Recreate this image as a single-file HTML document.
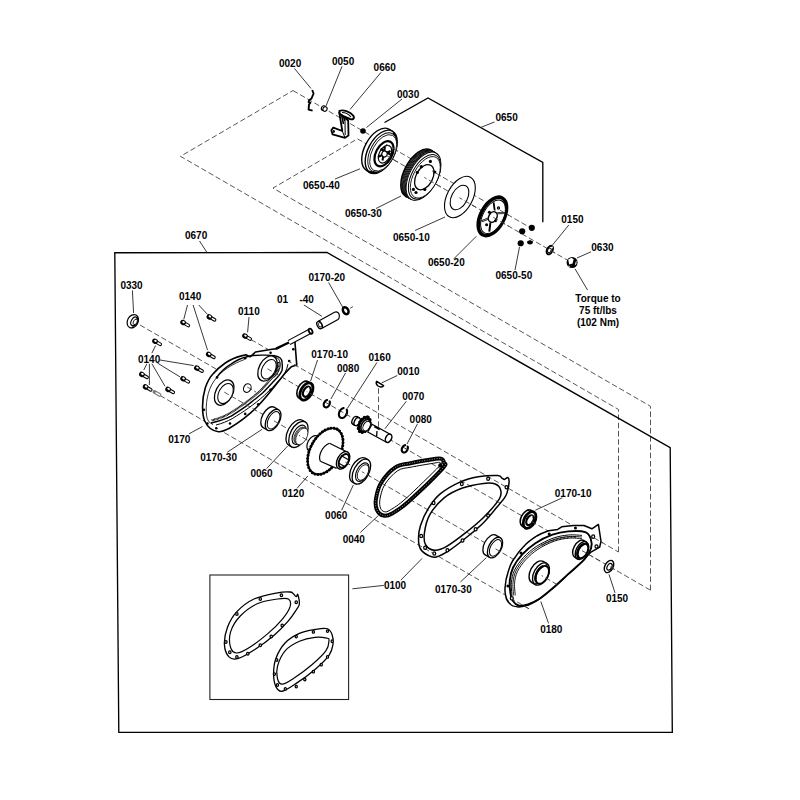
<!DOCTYPE html>
<html><head><meta charset="utf-8"><style>
html,body{margin:0;padding:0;background:#fff;}
svg{display:block;}
text{font-family:"Liberation Sans",sans-serif;font-weight:bold;font-size:10px;fill:#000;}
.ld{stroke:#222;stroke-width:0.9;fill:none;}
.ds{stroke:#444;stroke-width:0.9;fill:none;stroke-dasharray:5.5 2.75;}
.fr{stroke:#000;stroke-width:1.35;fill:none;}
.fr2{stroke:#222;stroke-width:1.1;fill:none;}
</style></head><body>
<svg width="800" height="800" viewBox="0 0 800 800">
<path class="ds" style="stroke-dashoffset:0" d="M251 339.58 L618.5 551.99"/>
<path class="ds" d="M618.5 551.99 L618.5 409.49 L180.5 156.33 L293 90.55"/>
<path class="ds" style="stroke-dashoffset:0" d="M293 90.55 L532 228.7"/>
<path class="ds" style="stroke-dashoffset:0" d="M267 368.53 L650.5 590.19"/>
<path class="ds" d="M650.5 590.19 L650.5 406.29 L273 188.09 L357.5 138.83"/>
<path class="ds" style="stroke-dashoffset:0" d="M357.5 138.83 L570 261.66"/>
<path class="ds" style="stroke-dashoffset:0" d="M140 325.02 L256 392.07"/>
<path class="ds" style="stroke-dashoffset:0" d="M224 391.97 L557 584.45"/>
<path class="ds" style="stroke-dashoffset:0" d="M160 395.48 L530 609.34"/>
<path class="ds" d="M378.5 388.3 L378.5 427.6"/>
<path class="fr" d="M114.8 252.7 L327 252.5 L670.2 447.6 L672.3 732.3 L118.8 732.3 Z"/>
<path class="fr" d="M384.5 122.5 L428 98 L542.8 162.5 L542.8 222.3"/>
<rect class="fr2" x="209.9" y="575" width="138.7" height="124.5"/>
<path d="M312.2 90 L313.6 93.5 L311.5 98.5 L309.2 100.2 L308.6 102 L310.4 102.6 L309 104.5 L308.6 109.6 L312.6 110.6" fill="none" stroke="#000" stroke-width="1.9" stroke-linejoin="round"/>
<ellipse cx="323.5" cy="108.2" rx="2.4" ry="2.04" transform="rotate(-62.0 323.5 108.2)" fill="#fff" stroke="#000" stroke-width="1.1" />
<ellipse cx="325" cy="109" rx="2.4" ry="2.04" transform="rotate(-62.0 325 109)" fill="#fff" stroke="#000" stroke-width="1.1" />
<path d="M339.3 112.5 L342.3 131 L333.3 127.6 L331.3 130.2 L332.6 134.4 L345 137.8 L348.5 135.6 L348.2 120.5 L343 116.5 Z" fill="#fff" stroke="#000" stroke-width="1.8" stroke-linejoin="round"/>
<path d="M342.3 131 L345 137.8 M345 121 L345.2 135" stroke="#000" stroke-width="1.0" fill="none"/>
<path d="M339.5 110.8 C343 109.5 350 111.5 353.2 115.5 C355 118.5 353 120 350 119 C346 117.5 342 116 339.5 113.5 Z" fill="#fff" stroke="#000" stroke-width="1.9" stroke-linejoin="round"/>
<path d="M342 112.5 C345 112.5 349 114.5 351 117" fill="none" stroke="#000" stroke-width="1.1"/>
<path d="M341.5 114.5 L343.5 124 M343.8 117 L345 121" stroke="#000" stroke-width="1.6"/>
<ellipse cx="333.8" cy="131.5" rx="1.1" ry="1.4" fill="#000"/>
<circle cx="363" cy="131" r="2.8" fill="#000"/>
<path d="M388.77 129.05 A23.5 13.16 -62.0 0 0 366.7 170.55 L370.17 172.55 L392.23 131.05 Z" fill="#fff" stroke="#000" stroke-width="1.4" stroke-linejoin="round"/>
<ellipse cx="381.2" cy="151.8" rx="23.5" ry="13.16" transform="rotate(-62.0 381.2 151.8)" fill="#fff" stroke="#000" stroke-width="1.4" />
<path d="M393.84 133.42 L394.43 134.65 L394.89 136.01 L395.23 137.5 L395.44 139.09 L395.52 140.77 L395.47 142.54 L395.29 144.38 L394.99 146.27 L394.56 148.19 L394 150.14 L393.33 152.09 L392.54 154.03 L391.65 155.95 L390.66 157.82 L389.58 159.63 L388.42 161.38 L387.18 163.04 L385.89 164.59 L384.54 166.04 L383.15 167.36 L381.73 168.55 L380.29 169.6 L378.84 170.49 L377.4 171.22 L375.98 171.78 L374.59 172.18 L373.24 172.4 L371.93 172.44 L370.69 172.31 L369.52 172.01" fill="none" stroke="#000" stroke-width="2.4" stroke-linecap="round"/>
<ellipse cx="382.3" cy="152.4" rx="21.3" ry="11.93" transform="rotate(-62.0 382.3 152.4)" fill="#fff" stroke="#000" stroke-width="0.9" />
<ellipse cx="383.2" cy="152.9" rx="19.8" ry="11.09" transform="rotate(-62.0 383.2 152.9)" fill="#fff" stroke="#000" stroke-width="0.8" />
<ellipse cx="384" cy="153.75" rx="13.5" ry="8.1" transform="rotate(-62.0 384 153.75)" fill="#fff" stroke="#000" stroke-width="2.2" />
<ellipse cx="385" cy="154.2" rx="9.5" ry="5.7" transform="rotate(-62.0 385 154.2)" fill="#fff" stroke="#000" stroke-width="1.2" />
<path d="M380.5 149 l10 5.5 M385 146.5 l-2.5 14 M378 157 l12.5 -6" stroke="#000" stroke-width="2"/>
<ellipse cx="384.5" cy="154" rx="3" ry="2.7" transform="rotate(-62.0 384.5 154)" fill="#fff" stroke="#000" stroke-width="1.2" />
<path class="ds" style="stroke-dashoffset:6.44" d="M384.5 154.44 L400 163.4"/>
<path class="ds" style="stroke-dashoffset:0.17" d="M386 144.31 L399 151.82"/>
<ellipse cx="418.3" cy="173.2" rx="26.3" ry="13.94" transform="rotate(-62.0 418.3 173.2)" fill="#fff" stroke="#000" stroke-width="1.6" />
<ellipse cx="419.05" cy="173.63" rx="26.3" ry="13.94" transform="rotate(-62.0 419.05 173.63)" fill="#fff" stroke="#000" stroke-width="0.9" />
<ellipse cx="419.8" cy="174.06" rx="26.3" ry="13.94" transform="rotate(-62.0 419.8 174.06)" fill="#fff" stroke="#000" stroke-width="0.9" />
<ellipse cx="420.55" cy="174.49" rx="26.3" ry="13.94" transform="rotate(-62.0 420.55 174.49)" fill="#fff" stroke="#000" stroke-width="0.9" />
<ellipse cx="421.3" cy="174.92" rx="26.3" ry="13.94" transform="rotate(-62.0 421.3 174.92)" fill="#fff" stroke="#000" stroke-width="0.9" />
<ellipse cx="422.05" cy="175.35" rx="26.3" ry="13.94" transform="rotate(-62.0 422.05 175.35)" fill="#fff" stroke="#000" stroke-width="0.9" />
<ellipse cx="422.8" cy="175.78" rx="26.3" ry="13.94" transform="rotate(-62.0 422.8 175.78)" fill="#fff" stroke="#000" stroke-width="0.9" />
<ellipse cx="423.55" cy="176.21" rx="26.3" ry="13.94" transform="rotate(-62.0 423.55 176.21)" fill="#fff" stroke="#000" stroke-width="0.9" />
<ellipse cx="424.5" cy="176.8" rx="24.3" ry="12.88" transform="rotate(-62.0 424.5 176.8)" fill="#fff" stroke="#000" stroke-width="1" />
<ellipse cx="425.3" cy="177.3" rx="22.6" ry="11.98" transform="rotate(-62.0 425.3 177.3)" fill="#fff" stroke="#000" stroke-width="0.8" />
<ellipse cx="424.3" cy="177.2" rx="13.5" ry="8.37" transform="rotate(-62.0 424.3 177.2)" fill="#fff" stroke="#000" stroke-width="1.3" />
<circle cx="430.4" cy="161.4" r="1.6" fill="#000"/>
<circle cx="421.3" cy="166.7" r="1.6" fill="#000"/>
<circle cx="417.3" cy="172.4" r="1.6" fill="#000"/>
<circle cx="413.4" cy="189.4" r="1.6" fill="#000"/>
<circle cx="416" cy="192.5" r="1.6" fill="#000"/>
<circle cx="424.8" cy="189.4" r="1.6" fill="#000"/>
<circle cx="434.8" cy="172" r="1.6" fill="#000"/>
<path class="ds" style="stroke-dashoffset:2.91" d="M424.3 177.45 L443 188.25"/>
<path class="ds" style="stroke-dashoffset:3.8" d="M432 170.9 L443 177.25"/>
<ellipse cx="459.9" cy="197" rx="22.4" ry="12.77" transform="rotate(-62.0 459.9 197)" fill="#fff" stroke="#000" stroke-width="1.1" />
<ellipse cx="459.5" cy="197.5" rx="13.2" ry="7.92" transform="rotate(-62.0 459.5 197.5)" fill="#fff" stroke="#000" stroke-width="1.1" />
<path class="ds" style="stroke-dashoffset:2.31" d="M459.5 197.79 L476 207.33"/>
<ellipse cx="492.4" cy="216.4" rx="20.8" ry="11.65" transform="rotate(-62.0 492.4 216.4)" fill="#fff" stroke="#000" stroke-width="3.6" />
<ellipse cx="493" cy="216.8" rx="18.2" ry="10.19" transform="rotate(-62.0 493 216.8)" fill="#fff" stroke="#000" stroke-width="1" />
<line x1="494.7" y1="210.5" x2="493.6" y2="202.3" stroke="#000" stroke-width="1.8"/>
<line x1="497.5" y1="213.2" x2="505" y2="213.0" stroke="#000" stroke-width="2.2"/>
<line x1="490.4" y1="222.5" x2="489.3" y2="231.6" stroke="#000" stroke-width="2.0"/>
<line x1="488.5" y1="218.5" x2="481.6" y2="221.2" stroke="#000" stroke-width="2.2"/>
<line x1="498" y1="213.1" x2="504.5" y2="213" stroke="#fff" stroke-width="0.6"/><line x1="488" y1="218.7" x2="482.2" y2="221" stroke="#fff" stroke-width="0.6"/>
<ellipse cx="492.8" cy="217" rx="5.6" ry="4.03" transform="rotate(-62.0 492.8 217)" fill="#fff" stroke="#000" stroke-width="1.5" />
<circle cx="489.4" cy="212.3" r="1.5" fill="#000"/>
<circle cx="486.6" cy="224.7" r="1.5" fill="#000"/>
<circle cx="495.6" cy="220.9" r="1.3" fill="#000"/>
<ellipse cx="498.5" cy="208" rx="1" ry="1.15" fill="#fff" stroke="#000" stroke-width="1.25"/>
<path class="ds" style="stroke-dashoffset:8.01" d="M493 217.15 L509 226.4"/>
<path class="ds" style="stroke-dashoffset:8.09" d="M500 210.2 L509 215.4"/>
<circle cx="531.8" cy="227.8" r="3.1" fill="#000"/>
<circle cx="522.2" cy="231.25" r="3.1" fill="#000"/>
<circle cx="520.7" cy="243.25" r="3.1" fill="#000"/>
<path d="M527 241.5 a3 3 0 0 0 6 0 l-3 -1.5 z" fill="#000"/>
<ellipse cx="549.8" cy="250.1" rx="4.6" ry="2.76" transform="rotate(-62.0 549.8 250.1)" fill="#fff" stroke="#000" stroke-width="1.9" />
<path d="M552.6 246.8 L549.6 250" stroke="#fff" stroke-width="1.3"/>
<ellipse cx="549.4" cy="250.4" rx="2.4" ry="1.68" transform="rotate(-62.0 549.4 250.4)" fill="#fff" stroke="#000" stroke-width="0.9" />
<path class="ds" style="stroke-dashoffset:0.29" d="M550.6 250.45 L556 253.57"/>
<circle cx="572.1" cy="262.5" r="5.5" fill="#000"/>
<path d="M568.2 259.5 L571.5 257.8 L573.6 259.2 L572.6 263.5 L569.2 264.6 Z" fill="#fff"/>
<path d="M575.6 262.2 L576.6 260.5 L576.4 264 L574.8 265.6 Z" fill="#fff"/>
<path d="M568 265.5 L570.2 266.6 L568.8 267 Z" fill="#fff"/>
<ellipse cx="132.8" cy="321.25" rx="7" ry="5.32" transform="rotate(-62.0 132.8 321.25)" fill="#fff" stroke="#000" stroke-width="1.2" />
<ellipse cx="134.2" cy="321.4" rx="4.7" ry="2.91" transform="rotate(-62.0 134.2 321.4)" fill="#fff" stroke="#000" stroke-width="1.1" />
<path d="M136.82 317.55 L137.01 317.76 L137.17 318 L137.31 318.27 L137.42 318.57 L137.51 318.89 L137.56 319.23 L137.59 319.59 L137.58 319.97 L137.55 320.36 L137.49 320.76 L137.4 321.16 L137.28 321.57 L137.14 321.98 L136.97 322.38 L136.77 322.77 L136.56 323.15 L136.32 323.51 L136.07 323.86 L135.79 324.18 L135.51 324.48 L135.21 324.76 L134.91 325 L134.6 325.22 L134.28 325.4 L133.97 325.55 L133.65 325.66 L133.34 325.73 L133.04 325.77 L132.75 325.76 L132.47 325.72" fill="none" stroke="#000" stroke-width="1.7" stroke-linecap="round"/>
<ellipse cx="135.2" cy="321.9" rx="2.9" ry="1.8" transform="rotate(-62.0 135.2 321.9)" fill="#fff" stroke="#000" stroke-width="0.8" />
<path d="M183.1 322.5 L188.29 325.5" stroke="#000" stroke-width="3.6" stroke-linecap="round"/>
<path d="M184.83 323.5 L188.29 325.5" stroke="#fff" stroke-width="1.6" stroke-linecap="round"/>
<ellipse cx="183.1" cy="322.5" rx="2.6" ry="2.9" transform="rotate(-60 183.1 322.5)" fill="#000"/>
<ellipse cx="183.7" cy="322.7" rx="1.0" ry="1.4" transform="rotate(-60 183.1 322.5)" fill="#fff"/>
<path d="M209.4 316.9 L214.59 319.9" stroke="#000" stroke-width="3.6" stroke-linecap="round"/>
<path d="M211.13 317.9 L214.59 319.9" stroke="#fff" stroke-width="1.6" stroke-linecap="round"/>
<ellipse cx="209.4" cy="316.9" rx="2.6" ry="2.9" transform="rotate(-60 209.4 316.9)" fill="#000"/>
<ellipse cx="210" cy="317.1" rx="1.0" ry="1.4" transform="rotate(-60 209.4 316.9)" fill="#fff"/>
<path d="M155 341.25 L160.19 344.25" stroke="#000" stroke-width="3.6" stroke-linecap="round"/>
<path d="M156.73 342.25 L160.19 344.25" stroke="#fff" stroke-width="1.6" stroke-linecap="round"/>
<ellipse cx="155" cy="341.25" rx="2.6" ry="2.9" transform="rotate(-60 155 341.25)" fill="#000"/>
<ellipse cx="155.6" cy="341.45" rx="1.0" ry="1.4" transform="rotate(-60 155 341.25)" fill="#fff"/>
<path d="M208.75 354.4 L213.94 357.4" stroke="#000" stroke-width="3.6" stroke-linecap="round"/>
<path d="M210.48 355.4 L213.94 357.4" stroke="#fff" stroke-width="1.6" stroke-linecap="round"/>
<ellipse cx="208.75" cy="354.4" rx="2.6" ry="2.9" transform="rotate(-60 208.75 354.4)" fill="#000"/>
<ellipse cx="209.35" cy="354.6" rx="1.0" ry="1.4" transform="rotate(-60 208.75 354.4)" fill="#fff"/>
<path d="M196.9 368.1 L202.09 371.1" stroke="#000" stroke-width="3.6" stroke-linecap="round"/>
<path d="M198.63 369.1 L202.09 371.1" stroke="#fff" stroke-width="1.6" stroke-linecap="round"/>
<ellipse cx="196.9" cy="368.1" rx="2.6" ry="2.9" transform="rotate(-60 196.9 368.1)" fill="#000"/>
<ellipse cx="197.5" cy="368.3" rx="1.0" ry="1.4" transform="rotate(-60 196.9 368.1)" fill="#fff"/>
<path d="M183.1 378.75 L188.29 381.75" stroke="#000" stroke-width="3.6" stroke-linecap="round"/>
<path d="M184.83 379.75 L188.29 381.75" stroke="#fff" stroke-width="1.6" stroke-linecap="round"/>
<ellipse cx="183.1" cy="378.75" rx="2.6" ry="2.9" transform="rotate(-60 183.1 378.75)" fill="#000"/>
<ellipse cx="183.7" cy="378.95" rx="1.0" ry="1.4" transform="rotate(-60 183.1 378.75)" fill="#fff"/>
<path d="M141.9 374.4 L147.09 377.4" stroke="#000" stroke-width="3.6" stroke-linecap="round"/>
<path d="M143.63 375.4 L147.09 377.4" stroke="#fff" stroke-width="1.6" stroke-linecap="round"/>
<ellipse cx="141.9" cy="374.4" rx="2.6" ry="2.9" transform="rotate(-60 141.9 374.4)" fill="#000"/>
<ellipse cx="142.5" cy="374.6" rx="1.0" ry="1.4" transform="rotate(-60 141.9 374.4)" fill="#fff"/>
<path d="M145.6 386.9 L150.79 389.9" stroke="#000" stroke-width="3.6" stroke-linecap="round"/>
<path d="M147.33 387.9 L150.79 389.9" stroke="#fff" stroke-width="1.6" stroke-linecap="round"/>
<ellipse cx="145.6" cy="386.9" rx="2.6" ry="2.9" transform="rotate(-60 145.6 386.9)" fill="#000"/>
<ellipse cx="146.2" cy="387.1" rx="1.0" ry="1.4" transform="rotate(-60 145.6 386.9)" fill="#fff"/>
<path d="M168.1 389.4 L173.29 392.4" stroke="#000" stroke-width="3.6" stroke-linecap="round"/>
<path d="M169.83 390.4 L173.29 392.4" stroke="#fff" stroke-width="1.6" stroke-linecap="round"/>
<ellipse cx="168.1" cy="389.4" rx="2.6" ry="2.9" transform="rotate(-60 168.1 389.4)" fill="#000"/>
<ellipse cx="168.7" cy="389.6" rx="1.0" ry="1.4" transform="rotate(-60 168.1 389.4)" fill="#fff"/>
<path d="M245 336 L250.19 339" stroke="#000" stroke-width="3.6" stroke-linecap="round"/>
<path d="M246.73 337 L250.19 339" stroke="#fff" stroke-width="1.6" stroke-linecap="round"/>
<ellipse cx="245" cy="336" rx="2.6" ry="2.9" transform="rotate(-60 245 336)" fill="#000"/>
<ellipse cx="245.6" cy="336.2" rx="1.0" ry="1.4" transform="rotate(-60 245 336)" fill="#fff"/>
<path d="M154.4 391.9 L159.59 394.9" stroke="#777" stroke-width="3.6" stroke-linecap="round"/>
<path d="M156.13 392.9 L159.59 394.9" stroke="#fff" stroke-width="1.6" stroke-linecap="round"/>
<path d="M294.7 338.9 L296.75 365.1 L291.25 366.85 C288 370 286 372 284.4 374 C278 382 266 398 256.9 407 C250 414 240 422 229.4 428.3 C224 431 220 432 218.4 431.75 C212 431 207 426 204.6 420.75 C202 414 201.5 400 205.3 387.75 C208 380 210 377 212.9 374 C217 369 221 366 225.25 363 C230 360 236 357 240.4 356.1 L245.9 354.75 L250 356.8 L255.5 352 L272 349.25 L277.5 348.6 Z" fill="#fff" stroke="#000" stroke-width="1.6" stroke-linejoin="round"/>
<path d="M217.1 376.9 C222 370 226 367 231 364.1 C236 360.5 241 358 246.9 356.7 C252 355.5 257 355 262.8 355.1 C267 355.2 271 355.2 274.5 355.6 C279 356.5 282 359 282 362 C282.5 366 282.5 368 282 370.5 C281 373 279.5 375 277.7 376.9 C273 382 268 387.5 262.8 392.8 C257.5 397.5 252 401.5 246.9 405.6 C241.5 409.5 236 413 231 416.2 C225 419.5 218 421.5 211 423" fill="none" stroke="#000" stroke-width="1.4"/>
<path d="M278.5 362 C279 368 277.5 371.5 274.8 374.8 C270 380 265 386 260.3 390.8 C255 395.5 250 399.5 244.3 403.6 C238 408 233 411.5 228.5 414 C222 417.5 217 419 211.5 420.3" fill="none" stroke="#000" stroke-width="2.2" stroke-dasharray="0.9 0.45"/>
<path d="M288 364 C287 370 284 375 280.5 378.8 C275.5 384.5 270 390 264.8 395 C259.5 400 254 404 248.8 407.8 C243 412 238 415 232.8 418.3 C227 421.5 222 423.5 216 425" fill="none" stroke="#000" stroke-width="1.0"/>
<path d="M244.5 359.5 C232 364 221 371 214 381 C207 391 205.5 405 206.5 415 C207 420 209 423 213 424.5" fill="none" stroke="#000" stroke-width="0.8"/>
<path d="M270.5 356 C276.5 355.8 280 359 280.2 364 C280.4 369 278 373.5 274 377.5" fill="none" stroke="#000" stroke-width="1.0"/>
<path d="M268.5 357.2 C274 357.4 277.2 360.5 277.4 365 C277.6 369.5 275.5 373.5 271.8 377" fill="none" stroke="#000" stroke-width="0.9"/>
<ellipse cx="224.2" cy="392.6" rx="13.6" ry="8.43" transform="rotate(-62.0 224.2 392.6)" fill="#fff" stroke="#000" stroke-width="1.3" />
<ellipse cx="225.5" cy="393.5" rx="10.8" ry="6.7" transform="rotate(-62.0 225.5 393.5)" fill="#fff" stroke="#000" stroke-width="1" />
<ellipse cx="267.5" cy="368.5" rx="13.5" ry="8.37" transform="rotate(-62.0 267.5 368.5)" fill="#fff" stroke="#000" stroke-width="1.3" />
<ellipse cx="268.7" cy="369.2" rx="10.5" ry="6.51" transform="rotate(-62.0 268.7 369.2)" fill="#fff" stroke="#000" stroke-width="1" />
<ellipse cx="247.3" cy="388.1" rx="4.5" ry="3.6" transform="rotate(-62.0 247.3 388.1)" fill="#fff" stroke="#000" stroke-width="1.1" />
<path class="ds" style="stroke-dashoffset:0.23" d="M224.2 392.09 L256 410.47"/>
<path class="ds" style="stroke-dashoffset:0.18" d="M247.3 387.04 L256 392.07"/>
<path class="ds" style="stroke-dashoffset:0.58" d="M267.5 368.81 L285 378.93"/>
<circle cx="245.2" cy="358.2" r="1.3" fill="#000"/>
<circle cx="217" cy="377.4" r="1.3" fill="#000"/>
<circle cx="270.6" cy="352.7" r="1.3" fill="#000"/>
<circle cx="293.3" cy="349.25" r="1.3" fill="#000"/>
<circle cx="289.2" cy="361" r="1.3" fill="#000"/>
<circle cx="203.9" cy="409.75" r="1.3" fill="#000"/>
<circle cx="270.6" cy="389.8" r="1.3" fill="#000"/>
<circle cx="258.25" cy="404.25" r="1.3" fill="#000"/>
<circle cx="245.2" cy="413.9" r="1.3" fill="#000"/>
<circle cx="230" cy="423.5" r="1.3" fill="#000"/>
<circle cx="216.3" cy="428.3" r="1.3" fill="#000"/>
<circle cx="207.4" cy="423.5" r="1.3" fill="#000"/>
<path class="ds" style="stroke-dashoffset:2.87" d="M289.2 361.66 L297 366.17"/>
<path d="M276 348.6 L293.5 340.6" stroke="#000" stroke-width="2.2"/>
<path d="M289 342.6 L310.6 331" stroke="#000" stroke-width="5.6" stroke-linecap="butt"/><path d="M289 342.6 L310.6 331" stroke="#fff" stroke-width="3.4" stroke-linecap="butt"/>
<ellipse cx="310.6" cy="331.2" rx="2.7" ry="1.62" transform="rotate(62 310.6 331.2)" fill="#fff" stroke="#000" stroke-width="1.8" />
<path d="M318.3 321.2 L334.5 312.3 C337 311 339.5 313 339.4 316.2 C339.2 318 338.6 319 338 319.4 L321.6 328.6" fill="#fff" stroke="#000" stroke-width="1.2"/>
<ellipse cx="319.6" cy="325" rx="3.9" ry="2.42" transform="rotate(62 319.6 325)" fill="#fff" stroke="#000" stroke-width="1.3" />
<ellipse cx="320" cy="324.8" rx="2.4" ry="1.49" transform="rotate(62 320 324.8)" fill="#fff" stroke="#000" stroke-width="0.8" />
<ellipse cx="345.7" cy="310.7" rx="3.7" ry="2.59" transform="rotate(62 345.7 310.7)" fill="#fff" stroke="#000" stroke-width="2.5" />
<path class="ds" d="M350 308.3 L353 306.6"/>
<path d="M307.74 381.54 A9.3 5.58 -62.0 0 0 299 397.96 L302.03 399.71 L310.77 383.29 Z" fill="#fff" stroke="#000" stroke-width="1.6" stroke-linejoin="round"/>
<ellipse cx="306.4" cy="391.5" rx="9.3" ry="5.58" transform="rotate(-62.0 306.4 391.5)" fill="#fff" stroke="#000" stroke-width="2.8" />
<ellipse cx="306.8" cy="391.8" rx="5.4" ry="3.35" transform="rotate(-62.0 306.8 391.8)" fill="#fff" stroke="#000" stroke-width="2.3" />
<path d="M309 387.5 L306 391" stroke="#fff" stroke-width="1.4"/>
<path class="ds" style="stroke-dashoffset:4.72" d="M306.8 391.53 L313 395.11"/>
<path d="M329.63 401.38 L329.8 401.91 L329.88 402.5 L329.86 403.12 L329.76 403.76 L329.56 404.4 L329.28 405.02 L328.92 405.6 L328.5 406.12 L328.03 406.56 L327.52 406.92 L326.99 407.19 L326.45 407.34 L325.93 407.39 L325.43 407.32 L324.97 407.14 L324.57 406.86 L324.23 406.48 L323.97 406.02 L323.8 405.49 L323.72 404.9 L323.74 404.28 L323.84 403.64 L324.04 403 L324.32 402.38 L324.68 401.8 L325.1 401.28 L325.57 400.84 L326.08 400.48 L326.61 400.21 L327.15 400.06" fill="none" stroke="#000" stroke-width="2.1" stroke-linecap="round"/>
<path class="ds" style="stroke-dashoffset:3.07" d="M326.8 403.09 L331 405.52"/>
<path d="M346.73 409.69 L346.98 410.39 L347.1 411.18 L347.09 412.03 L346.96 412.91 L346.7 413.79 L346.33 414.64 L345.85 415.45 L345.28 416.17 L344.65 416.8 L343.96 417.31 L343.24 417.69 L342.51 417.92 L341.8 417.99 L341.13 417.91 L340.51 417.68 L339.97 417.3 L339.53 416.79 L339.2 416.15 L338.98 415.42 L338.89 414.62 L338.93 413.76 L339.09 412.88 L339.38 412.01 L339.78 411.16 L340.28 410.37 L340.86 409.67 L341.51 409.06 L342.21 408.59 L342.93 408.24 L343.66 408.05" fill="none" stroke="#000" stroke-width="2.1" stroke-linecap="round"/>
<path class="ds" style="stroke-dashoffset:5.28" d="M343 412.45 L348 415.34"/>
<path d="M376.6 381.4 L383.6 385.6 C382.8 387.2 380 387.4 378 386 C376.4 384.8 375.9 383 376.6 381.4 Z" fill="#fff" stroke="#000" stroke-width="1.5" stroke-linejoin="round"/>
<path d="M357.02 416.7 A4.3 2.67 -62 0 0 352.98 424.3 L355.18 425.5 L359.22 417.9 Z" fill="#fff" stroke="#000" stroke-width="1.4" stroke-linejoin="round"/>
<path d="M357.02 416.7 A4.3 2.67 -62 0 1 352.98 424.3" fill="none" stroke="#000" stroke-width="1.4"/>
<ellipse cx="357.2" cy="421.7" rx="4.3" ry="2.67" transform="rotate(-62 357.2 421.7)" fill="#fff" stroke="#000" stroke-width="1.4" />
<ellipse cx="364.3" cy="424.7" rx="7.8" ry="4.84" transform="rotate(-62.0 364.3 424.7)" fill="#fff" stroke="#000" stroke-width="2.6" />
<ellipse cx="364.3" cy="424.7" rx="8.6" ry="5.33" transform="rotate(-62.0 364.3 424.7)" fill="none" stroke="#000" stroke-width="2.8" stroke-dasharray="0.1 3.2" stroke-linecap="round"/>
<ellipse cx="365.6" cy="425.5" rx="6.6" ry="4.09" transform="rotate(-62.0 365.6 425.5)" fill="#fff" stroke="#000" stroke-width="1.6" />
<ellipse cx="366.6" cy="426.1" rx="5.2" ry="3.22" transform="rotate(-62.0 366.6 426.1)" fill="#fff" stroke="#000" stroke-width="1" />
<path d="M372 424.2 L390.6 434.4 L386.4 442.2 L367.8 432 Z" fill="#fff" stroke="#000" stroke-width="1.3"/>
<ellipse cx="388.6" cy="438.3" rx="4.4" ry="2.86" transform="rotate(-62.0 388.6 438.3)" fill="#fff" stroke="#000" stroke-width="1.5" />
<path d="M374.4 426.4 L379.8 429.4" stroke="#000" stroke-width="2"/><path d="M377 431 L376.6 436.5" stroke="#000" stroke-width="1.3"/>
<path d="M407.63 446.48 L407.8 447.01 L407.88 447.6 L407.86 448.22 L407.76 448.86 L407.56 449.5 L407.28 450.12 L406.92 450.7 L406.5 451.22 L406.03 451.66 L405.52 452.02 L404.99 452.29 L404.45 452.44 L403.93 452.49 L403.43 452.42 L402.97 452.24 L402.57 451.96 L402.23 451.58 L401.97 451.12 L401.8 450.59 L401.72 450 L401.74 449.38 L401.84 448.74 L402.04 448.1 L402.32 447.48 L402.68 446.9 L403.1 446.38 L403.57 445.94 L404.08 445.58 L404.61 445.31 L405.15 445.16" fill="none" stroke="#000" stroke-width="2.1" stroke-linecap="round"/>
<path class="ds" style="stroke-dashoffset:2.41" d="M404.8 448.17 L409 450.6"/>
<path d="M274.04 407.16 A11.6 6.5 -62.0 0 0 263.15 427.64 L267.65 430.24 L278.55 409.76 Z" fill="#fff" stroke="#000" stroke-width="1.3" stroke-linejoin="round"/>
<ellipse cx="273.1" cy="420" rx="11.6" ry="6.5" transform="rotate(-62.0 273.1 420)" fill="#fff" stroke="#000" stroke-width="1.3" />
<ellipse cx="273.6" cy="420.3" rx="9.4" ry="5.26" transform="rotate(-62.0 273.6 420.3)" fill="#fff" stroke="#000" stroke-width="1" />
<path class="ds" style="stroke-dashoffset:7.79" d="M273.6 420.64 L280 424.34"/>
<path d="M302.3 420.26 A14.2 7.95 -62.0 0 0 288.96 445.34 L291.73 446.94 L305.07 421.86 Z" fill="#fff" stroke="#000" stroke-width="1.3" stroke-linejoin="round"/>
<ellipse cx="298.4" cy="434.4" rx="14.2" ry="7.95" transform="rotate(-62.0 298.4 434.4)" fill="#fff" stroke="#000" stroke-width="1.3" />
<ellipse cx="299.2" cy="434.8" rx="10.5" ry="5.88" transform="rotate(-62.0 299.2 434.8)" fill="#fff" stroke="#000" stroke-width="1.1" />
<ellipse cx="300" cy="435.4" rx="9" ry="5.04" transform="rotate(-62.0 300 435.4)" fill="#fff" stroke="#000" stroke-width="0.7" />
<ellipse cx="300.9" cy="435.9" rx="9" ry="5.04" transform="rotate(-62.0 300.9 435.9)" fill="#fff" stroke="#000" stroke-width="0.7" />
<ellipse cx="301.8" cy="436.4" rx="9" ry="5.04" transform="rotate(-62.0 301.8 436.4)" fill="#fff" stroke="#000" stroke-width="0.7" />
<path class="ds" style="stroke-dashoffset:4.13" d="M299 435.32 L307 439.95"/>
<ellipse cx="313" cy="443.5" rx="8.5" ry="5.27" transform="rotate(-62.0 313 443.5)" fill="#fff" stroke="#000" stroke-width="1.2" />
<ellipse cx="325.3" cy="451.3" rx="24.8" ry="14.88" transform="rotate(-62.0 325.3 451.3)" fill="#fff" stroke="#000" stroke-width="1.6" />
<ellipse cx="325.3" cy="451.3" rx="25.1" ry="15.06" transform="rotate(-62.0 325.3 451.3)" fill="none" stroke="#000" stroke-width="3" stroke-dasharray="0.1 3.0" stroke-linecap="round"/>
<path d="M330 443 L347.5 452.5 L336.5 468.2 L320 461 Z" fill="#fff" stroke="none"/>
<path d="M329.5 443.2 L347.6 452.3 M320.3 461.3 L336.6 468.4" stroke="#000" stroke-width="1.2"/>
<path d="M329.5 443.2 C322 446 318 456 320.3 461.3" fill="none" stroke="#000" stroke-width="1.2"/>
<ellipse cx="343.1" cy="460.3" rx="9.5" ry="5.7" transform="rotate(-62.0 343.1 460.3)" fill="#fff" stroke="#000" stroke-width="1.4" />
<ellipse cx="343.9" cy="460.8" rx="7.4" ry="4.44" transform="rotate(-62.0 343.9 460.8)" fill="#fff" stroke="#000" stroke-width="1.9" />
<path d="M341 455.5 L348 459.5 M338.5 463 L345.5 467" stroke="#000" stroke-width="1.1"/>
<path class="ds" style="stroke-dashoffset:5.56" d="M343.1 460.81 L350 464.8"/>
<path d="M365.19 458.09 A13.6 7.62 -62.0 0 0 352.42 482.11 L355.02 483.61 L367.78 459.59 Z" fill="#fff" stroke="#000" stroke-width="1.3" stroke-linejoin="round"/>
<ellipse cx="361.4" cy="471.6" rx="13.6" ry="7.62" transform="rotate(-62.0 361.4 471.6)" fill="#fff" stroke="#000" stroke-width="1.3" />
<ellipse cx="362.3" cy="472.1" rx="10" ry="5.6" transform="rotate(-62.0 362.3 472.1)" fill="#fff" stroke="#000" stroke-width="1.1" />
<ellipse cx="363" cy="472.5" rx="8.5" ry="4.76" transform="rotate(-62.0 363 472.5)" fill="#fff" stroke="#000" stroke-width="0.8" />
<path class="ds" style="stroke-dashoffset:2.64" d="M362 471.74 L370 476.36"/>
<path d="M440.79 458.62 C442.67 459.2 443.78 461.01 444.03 462.73 C444.27 464.45 448.15 462.48 442.26 468.92 C436.36 475.37 417.02 493.98 408.67 501.4 C400.32 508.83 396.35 511.13 392.15 513.49 C387.95 515.85 386.02 516.16 383.49 515.56 C380.95 514.96 378.16 512.71 376.91 509.9 C375.66 507.09 375.25 503.26 375.98 498.7 C376.71 494.15 378.07 487.77 381.3 482.55 C384.53 477.34 390.5 470.64 395.36 467.41 C400.21 464.19 404.19 464.56 410.43 463.2 C416.67 461.85 427.72 460.04 432.78 459.28 C437.84 458.52 438.92 458.05 440.79 458.62Z" fill="none" stroke="#000" stroke-width="4.0"/>
<path d="M440.79 458.62 C442.67 459.2 443.78 461.01 444.03 462.73 C444.27 464.45 448.15 462.48 442.26 468.92 C436.36 475.37 417.02 493.98 408.67 501.4 C400.32 508.83 396.35 511.13 392.15 513.49 C387.95 515.85 386.02 516.16 383.49 515.56 C380.95 514.96 378.16 512.71 376.91 509.9 C375.66 507.09 375.25 503.26 375.98 498.7 C376.71 494.15 378.07 487.77 381.3 482.55 C384.53 477.34 390.5 470.64 395.36 467.41 C400.21 464.19 404.19 464.56 410.43 463.2 C416.67 461.85 427.72 460.04 432.78 459.28 C437.84 458.52 438.92 458.05 440.79 458.62Z" fill="none" stroke="#bbb" stroke-width="0.9" stroke-dasharray="0.9 1.6"/>
<path d="M439.38 462.36 C440.5 462.39 440.1 462.74 440.08 463.39 C440.06 464.04 444.94 460.43 439.27 466.26 C433.59 472.1 414.18 491.13 406.01 498.41 C397.85 505.7 393.84 507.76 390.25 509.97 C386.65 512.18 386.07 511.98 384.46 511.68 C382.84 511.38 381.28 510.25 380.53 508.19 C379.77 506.13 379.24 503.23 379.93 499.31 C380.63 495.39 381.76 489.42 384.7 484.66 C387.64 479.9 393.14 473.67 397.58 470.74 C402.01 467.82 405.33 468.36 411.29 467.11 C417.26 465.86 428.67 464.03 433.35 463.24 C438.03 462.45 438.26 462.34 439.38 462.36Z" fill="none" stroke="#000" stroke-width="1.0"/>
<circle cx="440.4" cy="465.5" r="2.2" fill="#000"/>
<path d="M507.8 477.5 C508.57 477.95 509.22 479.58 509.1 482.1 C508.98 484.62 507.87 489.98 507.1 492.6 C506.33 495.22 505.82 495.83 504.5 497.8 C503.18 499.77 502.7 500.25 499.2 504.4 C495.7 508.55 489.18 517.02 483.5 522.7 C477.82 528.38 470.78 533.9 465.1 538.5 C459.42 543.1 454.21 547.23 449.4 550.3 C444.59 553.37 439.75 556.03 436.25 556.9 C432.75 557.77 431.02 556.82 428.4 555.5 C425.77 554.18 422.15 551.83 420.5 549 C418.85 546.17 418.5 542.43 418.5 538.5 C418.5 534.57 418.85 530.43 420.5 525.4 C422.15 520.37 425.12 513.55 428.4 508.3 C431.68 503.05 434.95 498.27 440.2 493.9 C445.45 489.53 453.57 484.95 459.9 482.1 C466.23 479.25 471.87 477.9 478.2 476.8 C484.53 475.7 493.95 475.28 497.9 475.5 C501.85 475.72 500.8 477.45 501.9 478.1 C503 478.75 503.52 479.5 504.5 479.4 C505.48 479.3 507.03 477.05 507.8 477.5Z" fill="none" stroke="#000" stroke-width="1.5" stroke-linejoin="round" />
<path d="M495.3 484 C498.15 485.08 499.95 487.38 500.6 489.9 C501.25 492.42 502.05 494.5 499.2 499.1 C496.35 503.7 489.18 511.82 483.5 517.5 C477.82 523.18 471.23 528.38 465.1 533.2 C458.97 538.02 451.73 543.55 446.7 546.4 C441.67 549.25 438.39 550.53 434.9 550.3 C431.41 550.07 427.5 547.85 425.75 545 C424 542.15 423.74 538.22 424.4 533.2 C425.06 528.18 426.42 520.8 429.7 514.9 C432.98 509 438.63 502.28 444.1 497.8 C449.57 493.32 455.93 490.4 462.5 488 C469.07 485.6 478.03 484.07 483.5 483.4 C488.97 482.73 492.45 482.92 495.3 484Z" fill="none" stroke="#000" stroke-width="1.5" stroke-linejoin="round" />
<ellipse cx="488.1" cy="478.8" rx="1.4" ry="1.61" fill="#fff" stroke="#000" stroke-width="1.25"/>
<ellipse cx="461.8" cy="484" rx="1.4" ry="1.61" fill="#fff" stroke="#000" stroke-width="1.25"/>
<ellipse cx="433.6" cy="503.1" rx="1.4" ry="1.61" fill="#fff" stroke="#000" stroke-width="1.25"/>
<ellipse cx="421.2" cy="535.9" rx="1.4" ry="1.61" fill="#fff" stroke="#000" stroke-width="1.25"/>
<ellipse cx="425.1" cy="547.7" rx="1.4" ry="1.61" fill="#fff" stroke="#000" stroke-width="1.25"/>
<ellipse cx="447.4" cy="550.3" rx="1.4" ry="1.61" fill="#fff" stroke="#000" stroke-width="1.25"/>
<ellipse cx="462.5" cy="540.5" rx="1.4" ry="1.61" fill="#fff" stroke="#000" stroke-width="1.25"/>
<ellipse cx="475.6" cy="529.3" rx="1.4" ry="1.61" fill="#fff" stroke="#000" stroke-width="1.25"/>
<ellipse cx="488.1" cy="515.5" rx="1.4" ry="1.61" fill="#fff" stroke="#000" stroke-width="1.25"/>
<ellipse cx="506.5" cy="487.3" rx="1.4" ry="1.61" fill="#fff" stroke="#000" stroke-width="1.25"/>
<ellipse cx="434.3" cy="553.6" rx="1.4" ry="1.61" fill="#fff" stroke="#000" stroke-width="1.25"/>
<path d="M530.8 510.3 A9 5.4 -62.0 0 0 522.34 526.2 L525.37 527.95 L533.83 512.05 Z" fill="#fff" stroke="#000" stroke-width="1.6" stroke-linejoin="round"/>
<ellipse cx="529.6" cy="520" rx="9" ry="5.4" transform="rotate(-62.0 529.6 520)" fill="#fff" stroke="#000" stroke-width="2.8" />
<ellipse cx="530" cy="520.3" rx="5.2" ry="3.22" transform="rotate(-62.0 530 520.3)" fill="#fff" stroke="#000" stroke-width="2.3" />
<path d="M532.2 516 L529.2 519.5" stroke="#fff" stroke-width="1.4"/>
<path class="ds" style="stroke-dashoffset:6.77" d="M530 520.54 L536 524.01"/>
<path d="M495.76 535.11 A11.2 6.27 -62.0 0 0 485.24 554.89 L489.74 557.49 L500.26 537.71 Z" fill="#fff" stroke="#000" stroke-width="1.3" stroke-linejoin="round"/>
<ellipse cx="495" cy="547.6" rx="11.2" ry="6.27" transform="rotate(-62.0 495 547.6)" fill="#fff" stroke="#000" stroke-width="1.3" />
<ellipse cx="495.5" cy="547.9" rx="9" ry="5.04" transform="rotate(-62.0 495.5 547.9)" fill="#fff" stroke="#000" stroke-width="1" />
<path class="ds" style="stroke-dashoffset:0.09" d="M495.5 548.9 L502 552.66"/>
<path d="M598.4 524.45 L601 541.25 L599.7 547.2 L590.55 552.4 C587 556 585 558 584 559.6 C578 566 572 571 568.25 574.05 C562 580 557 585 552.5 588.5 C547 593 543 596 539.4 599 C533 603 529 605 526.25 605.55 C523 606.5 521 607 518.4 606.9 C514 606.5 511.5 606 510.5 604.25 C507 601 506 599 505.9 596.4 C504.5 592 504.8 589 505.25 585.9 C505.5 581 506.5 577 507.9 572.75 C509.5 567 511.5 562 514.4 558.3 C517.5 553 521 549 524.9 545.2 C529 541 533 538.5 536.75 536 C541 533.5 545 532 548.6 530.75 L557.75 529.4 L561.7 526.8 L573.5 525.5 L584 525.5 L591.9 528.8 Z" fill="#fff" stroke="#000" stroke-width="1.5" stroke-linejoin="round"/>
<path d="M585.3 532.1 C589.06 533.37 589.85 536.27 590.8 539 C591.75 541.73 592.08 545.1 591 548.5 C589.92 551.9 588.07 555.17 584.3 559.4 C580.53 563.63 573.68 569.08 568.4 573.9 C563.12 578.72 557.42 584.15 552.6 588.3 C547.78 592.45 543.6 596.13 539.5 598.8 C535.4 601.47 531.5 603.18 528 604.3 C524.5 605.42 521 606.05 518.5 605.5 C516 604.95 514.33 602.97 513 601 C511.67 599.03 511.03 597.1 510.5 593.7 C509.97 590.3 509.37 584.97 509.8 580.6 C510.23 576.23 511.02 571.87 513.1 567.5 C515.18 563.13 518.58 558.45 522.3 554.4 C526.02 550.35 530.37 546.48 535.4 543.2 C540.43 539.92 547.02 536.67 552.5 534.7 C557.98 532.73 562.78 531.83 568.25 531.4 C573.72 530.97 581.54 530.83 585.3 532.1Z" fill="#fff" stroke="#000" stroke-width="1.9"/>
<path d="M581.95 535.4 C579.7 535.33 573.23 534.52 568.41 534.99 C563.59 535.46 558.4 536.28 553.04 538.21 C547.69 540.13 541.2 543.33 536.27 546.54 C531.35 549.75 527.1 553.54 523.48 557.48 C519.86 561.42 516.56 565.98 514.54 570.19 C512.53 574.4 511.8 578.52 511.39 582.76 C510.98 587 511.98 593.47 512.1 595.61" fill="none" stroke="#000" stroke-width="1.0"/>
<path d="M581.91 537 C579.68 536.93 573.28 536.13 568.56 536.58 C563.84 537.04 558.82 537.83 553.58 539.71 C548.35 541.59 541.97 544.74 537.15 547.88 C532.33 551.02 528.18 554.73 524.66 558.56 C521.13 562.4 517.93 566.82 515.99 570.88 C514.04 574.94 513.37 578.81 512.98 582.92 C512.6 587.02 513.58 593.43 513.7 595.53" fill="none" stroke="#000" stroke-width="0.9"/>
<path d="M581.86 538.6 C579.67 538.53 573.34 537.74 568.72 538.18 C564.1 538.61 559.24 539.38 554.12 541.22 C549.01 543.06 542.74 546.15 538.02 549.22 C533.31 552.29 529.27 555.92 525.84 559.65 C522.4 563.37 519.31 567.66 517.43 571.57 C515.56 575.47 514.93 579.09 514.58 583.07 C514.22 587.05 515.17 593.38 515.29 595.44" fill="none" stroke="#000" stroke-width="0.9"/>
<path d="M576 537 C565 536.5 552 539.5 541 545.5" fill="none" stroke="#000" stroke-width="2.0" stroke-dasharray="0.6 0.8"/>
<path d="M583.91 540.52 A9.6 5.76 -62.0 0 0 574.9 557.48 L577.49 558.98 L586.51 542.02 Z" fill="#fff" stroke="#000" stroke-width="1.4" stroke-linejoin="round"/>
<ellipse cx="582" cy="550.5" rx="9.6" ry="5.76" transform="rotate(-62.0 582 550.5)" fill="#fff" stroke="#000" stroke-width="1.4" />
<path d="M586.05 543.21 L586.21 543.81 L586.32 544.44 L586.38 545.12 L586.39 545.82 L586.35 546.55 L586.26 547.3 L586.11 548.07 L585.92 548.84 L585.68 549.62 L585.39 550.39 L585.06 551.16 L584.69 551.9 L584.27 552.63 L583.83 553.33 L583.35 554.01 L582.84 554.64 L582.3 555.23 L581.75 555.78 L581.18 556.28 L580.6 556.72 L580.01 557.11 L579.42 557.43 L578.83 557.69 L578.24 557.89" fill="none" stroke="#222" stroke-width="2" stroke-linecap="round"/>
<path d="M586.12 542.02 L586.59 542.57 L586.97 543.23 L587.27 543.98 L587.47 544.82 L587.58 545.73 L587.59 546.7 L587.5 547.72 L587.31 548.77 L587.04 549.83 L586.67 550.9 L586.21 551.95 L585.68 552.97 L585.08 553.95 L584.42 554.87 L583.71 555.72 L582.95 556.48 L582.16 557.15 L581.36 557.71 L580.54 558.17 L579.73 558.5 L578.94 558.71 L578.17 558.8 L577.44 558.75 L576.75 558.58" fill="none" stroke="#000" stroke-width="1.2" stroke-linecap="round"/>
<ellipse cx="582.8" cy="551" rx="7.6" ry="4.56" transform="rotate(-62.0 582.8 551)" fill="#fff" stroke="#000" stroke-width="1.8" />
<path d="M578.07 556.57 L577.89 556.23 L577.74 555.86 L577.61 555.46 L577.52 555.04 L577.46 554.59 L577.43 554.12 L577.42 553.64 L577.45 553.13 L577.51 552.62 L577.6 552.1 L577.72 551.57 L577.87 551.04 L578.04 550.51 L578.25 549.98 L578.48 549.45 L578.73 548.94 L579.01 548.43 L579.31 547.95 L579.63 547.48 L579.97 547.02 L580.32 546.6 L580.69 546.19 L581.07 545.82 L581.46 545.47 L581.85 545.16 L582.26 544.88 L582.66 544.63 L583.07 544.42 L583.48 544.25 L583.88 544.12" fill="none" stroke="#000" stroke-width="2.6" stroke-linecap="round"/>
<path d="M543.17 561.4 A12 7.2 -62.0 0 0 531.9 582.59 L535.37 584.6 L546.63 563.4 Z" fill="#fff" stroke="#000" stroke-width="1.4" stroke-linejoin="round"/>
<ellipse cx="541" cy="574" rx="12" ry="7.2" transform="rotate(-62.0 541 574)" fill="#fff" stroke="#000" stroke-width="1.3" />
<path d="M546.39 564.43 L546.69 565.2 L546.9 566.05 L547.04 566.97 L547.09 567.93 L547.07 568.95 L546.96 569.99 L546.77 571.07 L546.5 572.15 L546.16 573.24 L545.74 574.33 L545.25 575.4 L544.71 576.44 L544.1 577.44 L543.44 578.4 L542.73 579.3 L541.98 580.14 L541.2 580.91 L540.4 581.59 L539.57 582.19 L538.74 582.7 L537.91 583.1 L537.08 583.41 L536.27 583.62 L535.48 583.71" fill="none" stroke="#222" stroke-width="1.8" stroke-linecap="round"/>
<ellipse cx="542.2" cy="574.8" rx="9.6" ry="5.76" transform="rotate(-62.0 542.2 574.8)" fill="#fff" stroke="#000" stroke-width="1.9" />
<path d="M535.75 580.79 L535.63 580.36 L535.53 579.9 L535.46 579.42 L535.42 578.93 L535.4 578.41 L535.42 577.89 L535.46 577.35 L535.53 576.8 L535.62 576.24 L535.75 575.67 L535.89 575.11 L536.07 574.54 L536.27 573.97 L536.49 573.4 L536.74 572.84 L537.01 572.29 L537.3 571.75 L537.61 571.22 L537.94 570.71 L538.29 570.21 L538.65 569.74 L539.03 569.28 L539.42 568.84 L539.83 568.43 L540.24 568.05 L540.66 567.69 L541.08 567.36 L541.51 567.07 L541.95 566.8 L542.38 566.57" fill="none" stroke="#000" stroke-width="2.4" stroke-linecap="round"/>
<circle cx="575.45" cy="528.1" r="1.5" fill="#000"/>
<circle cx="549.2" cy="534" r="1.5" fill="#000"/>
<circle cx="521" cy="553" r="1.5" fill="#000"/>
<circle cx="507.9" cy="585.9" r="1.5" fill="#000"/>
<ellipse cx="511.8" cy="598.3" rx="1.5" ry="1.72" fill="#fff" stroke="#000" stroke-width="1.25"/>
<ellipse cx="593.2" cy="536.65" rx="1.5" ry="1.72" fill="#fff" stroke="#000" stroke-width="1.25"/>
<ellipse cx="596.5" cy="546.5" rx="1.5" ry="1.72" fill="#fff" stroke="#000" stroke-width="1.25"/>
<path class="ds" style="stroke-dashoffset:0.83" d="M582 550.6 L600 561"/>
<path class="ds" style="stroke-dashoffset:3.95" d="M541.7 575.6 L557 584.45"/>
<path class="ds" style="stroke-dashoffset:7.5" d="M593.2 537.37 L603 543.03"/>
<path class="ds" style="stroke-dashoffset:2.09" d="M511.8 598.82 L530 609.34"/>
<ellipse cx="609" cy="566.5" rx="6.6" ry="4.09" transform="rotate(-62.0 609 566.5)" fill="#fff" stroke="#000" stroke-width="1.4" />
<ellipse cx="609.5" cy="566.8" rx="3.6" ry="2.23" transform="rotate(-62.0 609.5 566.8)" fill="#fff" stroke="#000" stroke-width="1.2" />
<path class="ds" style="stroke-dashoffset:7.85" d="M609.5 566.49 L616 570.25"/>
<path d="M297.8 594.4 C298.32 595.57 299.66 601.15 299.4 603.75 C299.14 606.35 298.08 607.14 296.25 610 C294.42 612.86 292.04 616.73 288.4 620.9 C284.76 625.07 279.87 630.32 274.4 635 C268.93 639.68 261.6 645.1 255.6 649 C249.6 652.9 242.83 657.08 238.4 658.4 C233.97 659.72 231.33 659.23 229 656.9 C226.67 654.57 224.65 649.35 224.4 644.4 C224.15 639.45 225.42 632.67 227.5 627.2 C229.58 621.73 232.48 616.3 236.9 611.6 C241.32 606.9 247.23 602.13 254 599 C260.77 595.87 271.5 593.97 277.5 592.8 C283.5 591.63 287.4 591.87 290 592 C292.6 592.13 292.06 592.82 293.1 593.6 C294.14 594.38 295.47 596.57 296.25 596.7 C297.03 596.83 297.28 593.23 297.8 594.4Z" fill="none" stroke="#000" stroke-width="1.3" stroke-linejoin="round" />
<path d="M288.4 599 C290.48 600.32 291.03 603.5 290 606.9 C288.97 610.3 285.85 614.98 282.2 619.4 C278.55 623.82 273.57 628.72 268.1 633.4 C262.63 638.08 254.6 644.23 249.4 647.5 C244.2 650.77 240.03 653 236.9 653 C233.77 653 231.65 651.02 230.6 647.5 C229.55 643.98 229.03 637.11 230.6 631.9 C232.17 626.69 235.57 620.94 240 616.25 C244.43 611.56 250.95 606.62 257.2 603.75 C263.45 600.88 272.3 599.79 277.5 599 C282.7 598.21 286.32 597.68 288.4 599Z" fill="none" stroke="#000" stroke-width="1.2" stroke-linejoin="round" />
<ellipse cx="260.3" cy="599" rx="1.2" ry="1.38" fill="#fff" stroke="#000" stroke-width="1.25"/>
<ellipse cx="281.4" cy="595.2" rx="1.2" ry="1.38" fill="#fff" stroke="#000" stroke-width="1.25"/>
<ellipse cx="296.25" cy="602.2" rx="1.2" ry="1.38" fill="#fff" stroke="#000" stroke-width="1.25"/>
<ellipse cx="236.9" cy="613.9" rx="1.2" ry="1.38" fill="#fff" stroke="#000" stroke-width="1.25"/>
<ellipse cx="282.2" cy="625.6" rx="1.2" ry="1.38" fill="#fff" stroke="#000" stroke-width="1.25"/>
<ellipse cx="271.25" cy="636.6" rx="1.2" ry="1.38" fill="#fff" stroke="#000" stroke-width="1.25"/>
<ellipse cx="260.3" cy="645.2" rx="1.2" ry="1.38" fill="#fff" stroke="#000" stroke-width="1.25"/>
<ellipse cx="225.9" cy="642" rx="1.2" ry="1.38" fill="#fff" stroke="#000" stroke-width="1.25"/>
<ellipse cx="229.8" cy="652.2" rx="1.2" ry="1.38" fill="#fff" stroke="#000" stroke-width="1.25"/>
<ellipse cx="236.9" cy="656.9" rx="1.2" ry="1.38" fill="#fff" stroke="#000" stroke-width="1.25"/>
<ellipse cx="247.8" cy="653.75" rx="1.2" ry="1.38" fill="#fff" stroke="#000" stroke-width="1.25"/>
<path d="M327.5 628.75 C330.37 629.67 331.28 632.39 332.2 635 C333.12 637.61 333.53 641.02 333 644.4 C332.47 647.78 332 651.13 329 655.3 C326 659.47 320.46 664.72 315 669.4 C309.54 674.08 301.72 679.76 296.25 683.4 C290.78 687.04 285.59 690.72 282.2 691.25 C278.81 691.78 277.33 689.46 275.9 686.6 C274.47 683.74 273.6 678.8 273.6 674.1 C273.6 669.4 273.95 663.62 275.9 658.4 C277.85 653.18 281.38 646.97 285.3 642.8 C289.22 638.63 294.45 635.62 299.4 633.4 C304.35 631.18 310.32 630.27 315 629.5 C319.68 628.73 324.63 627.83 327.5 628.75Z" fill="none" stroke="#000" stroke-width="1.3" stroke-linejoin="round" />
<path d="M326.7 638.1 C329.03 638.63 329.12 638.42 329 640.5 C328.88 642.58 328.85 646.57 326 650.6 C323.15 654.63 317.38 660.01 311.9 664.7 C306.42 669.39 298.05 675.5 293.1 678.75 C288.15 682 284.8 684.2 282.2 684.2 C279.6 684.2 278.28 681.74 277.5 678.75 C276.72 675.76 276.2 670.94 277.5 666.25 C278.8 661.56 281.65 654.77 285.3 650.6 C288.95 646.43 294.45 643.47 299.4 641.25 C304.35 639.03 310.45 637.82 315 637.3 C319.55 636.77 324.37 637.57 326.7 638.1Z" fill="none" stroke="#000" stroke-width="1.2" stroke-linejoin="round" />
<ellipse cx="296.25" cy="636.6" rx="1.1" ry="1.26" fill="#fff" stroke="#000" stroke-width="1.25"/>
<ellipse cx="313.4" cy="631.9" rx="1.1" ry="1.26" fill="#fff" stroke="#000" stroke-width="1.25"/>
<ellipse cx="327.5" cy="631.1" rx="1.1" ry="1.26" fill="#fff" stroke="#000" stroke-width="1.25"/>
<ellipse cx="332.2" cy="641.25" rx="1.1" ry="1.26" fill="#fff" stroke="#000" stroke-width="1.25"/>
<ellipse cx="327.5" cy="656.9" rx="1.1" ry="1.26" fill="#fff" stroke="#000" stroke-width="1.25"/>
<ellipse cx="321.25" cy="664.7" rx="1.1" ry="1.26" fill="#fff" stroke="#000" stroke-width="1.25"/>
<ellipse cx="313.4" cy="671.7" rx="1.1" ry="1.26" fill="#fff" stroke="#000" stroke-width="1.25"/>
<ellipse cx="304.8" cy="679.5" rx="1.1" ry="1.26" fill="#fff" stroke="#000" stroke-width="1.25"/>
<ellipse cx="296.25" cy="686.6" rx="1.1" ry="1.26" fill="#fff" stroke="#000" stroke-width="1.25"/>
<ellipse cx="285.3" cy="688.9" rx="1.1" ry="1.26" fill="#fff" stroke="#000" stroke-width="1.25"/>
<ellipse cx="277.5" cy="685" rx="1.1" ry="1.26" fill="#fff" stroke="#000" stroke-width="1.25"/>
<ellipse cx="274.4" cy="674.1" rx="1.1" ry="1.26" fill="#fff" stroke="#000" stroke-width="1.25"/>
<ellipse cx="276.7" cy="660" rx="1.1" ry="1.26" fill="#fff" stroke="#000" stroke-width="1.25"/>
<text x="279" y="67.2">0020</text>
<text x="332" y="65.2">0050</text>
<text x="373.6" y="71.2">0660</text>
<text x="397" y="98">0030</text>
<text x="495.5" y="120.8">0650</text>
<text x="303" y="189.2">0650-40</text>
<text x="345" y="216.8">0650-30</text>
<text x="393" y="240.5">0650-10</text>
<text x="428" y="266.3">0650-20</text>
<text x="495.5" y="278.8">0650-50</text>
<text x="561.3" y="223.3">0150</text>
<text x="591.3" y="250.5">0630</text>
<text x="185" y="239.3">0670</text>
<text x="120.4" y="289.2">0330</text>
<text x="179" y="299.6">0140</text>
<text x="238" y="315.2">0110</text>
<text x="308.4" y="281.4">0170-20</text>
<text x="276.9" y="302.8">01</text>
<text x="299.4" y="302.8">-40</text>
<text x="138" y="362.6">0140</text>
<text x="311.3" y="358.3">0170-10</text>
<text x="337" y="371.8">0080</text>
<text x="368.5" y="360.8">0160</text>
<text x="397.3" y="374.8">0010</text>
<text x="402.2" y="400.2">0070</text>
<text x="409.6" y="422.5">0080</text>
<text x="168.2" y="443.2">0170</text>
<text x="200.3" y="460.8">0170-30</text>
<text x="250.4" y="477.2">0060</text>
<text x="282" y="497.2">0120</text>
<text x="325.1" y="519.3">0060</text>
<text x="342.7" y="542.6">0040</text>
<text x="383.9" y="588.8">0100</text>
<text x="435" y="592.8">0170-30</text>
<text x="554.8" y="496.8">0170-10</text>
<text x="605.9" y="602">0150</text>
<text x="540.2" y="633">0180</text>
<text x="598" y="302" text-anchor="middle">Torque to</text>
<text x="598" y="314" text-anchor="middle">75 ft/lbs</text>
<text x="598" y="326" text-anchor="middle">(102 Nm)</text>
<line class="ld" x1="294.4" y1="68.4" x2="311" y2="88.5"/>
<line class="ld" x1="342" y1="66.4" x2="326" y2="106"/>
<line class="ld" x1="381" y1="72.4" x2="350" y2="109.5"/>
<line class="ld" x1="402" y1="99" x2="366.5" y2="127.5"/>
<line class="ld" x1="494.5" y1="122" x2="480.5" y2="127.5"/>
<line class="ld" x1="335" y1="179" x2="360" y2="168.8"/>
<line class="ld" x1="376" y1="208.5" x2="401" y2="196"/>
<line class="ld" x1="415" y1="230.5" x2="445" y2="217"/>
<line class="ld" x1="453.8" y1="258.8" x2="476.3" y2="236.3"/>
<line class="ld" x1="515" y1="270" x2="519.5" y2="247"/>
<line class="ld" x1="568.8" y1="225" x2="552.5" y2="245"/>
<line class="ld" x1="591" y1="251.8" x2="577" y2="258"/>
<line class="ld" x1="575" y1="268.8" x2="587.5" y2="290"/>
<line class="ld" x1="199.5" y1="241" x2="207" y2="252.5"/>
<line class="ld" x1="132.4" y1="290.4" x2="133.6" y2="313"/>
<line class="ld" x1="187.5" y1="305" x2="183.75" y2="319.4"/>
<line class="ld" x1="198.75" y1="305" x2="207.5" y2="314.4"/>
<line class="ld" x1="193.1" y1="305" x2="207.5" y2="350"/>
<line class="ld" x1="249" y1="317" x2="247.6" y2="332.4"/>
<line class="ld" x1="328.6" y1="282.5" x2="342.8" y2="307.3"/>
<line class="ld" x1="303.9" y1="305" x2="321.9" y2="316.3"/>
<line class="ld" x1="151.9" y1="353.1" x2="155.6" y2="345.6"/>
<line class="ld" x1="160" y1="360" x2="193.75" y2="365.6"/>
<line class="ld" x1="157.5" y1="363.1" x2="180" y2="376.9"/>
<line class="ld" x1="151.9" y1="363.75" x2="165" y2="386.25"/>
<line class="ld" x1="146.9" y1="363.75" x2="143.75" y2="370"/>
<line class="ld" x1="149.4" y1="363.75" x2="149.4" y2="385"/>
<line class="ld" x1="317.5" y1="360" x2="310.6" y2="381"/>
<line class="ld" x1="345.5" y1="373" x2="330.9" y2="399"/>
<line class="ld" x1="377" y1="362.4" x2="347.3" y2="408.5"/>
<line class="ld" x1="397.3" y1="375.5" x2="381.5" y2="383"/>
<line class="ld" x1="406.3" y1="401.3" x2="384.9" y2="428.8"/>
<line class="ld" x1="417.5" y1="423.8" x2="407" y2="444"/>
<line class="ld" x1="189" y1="433.8" x2="202.5" y2="426.5"/>
<line class="ld" x1="227.3" y1="452.2" x2="262.1" y2="429.3"/>
<line class="ld" x1="266.6" y1="468.6" x2="287.6" y2="446.1"/>
<line class="ld" x1="297" y1="488.4" x2="307.8" y2="476"/>
<line class="ld" x1="341.6" y1="510.3" x2="353.3" y2="485"/>
<line class="ld" x1="360.3" y1="532.5" x2="378.3" y2="515.6"/>
<line class="ld" x1="400.8" y1="580.2" x2="422.1" y2="558.4"/>
<line class="ld" x1="352.4" y1="588.8" x2="383.9" y2="585.4"/>
<line class="ld" x1="460.4" y1="582" x2="486.3" y2="557.7"/>
<line class="ld" x1="562.3" y1="497.8" x2="535.3" y2="510.2"/>
<line class="ld" x1="615" y1="592.8" x2="609" y2="574.4"/>
<line class="ld" x1="548.6" y1="623.4" x2="540.8" y2="601.5"/>
</svg></body></html>
